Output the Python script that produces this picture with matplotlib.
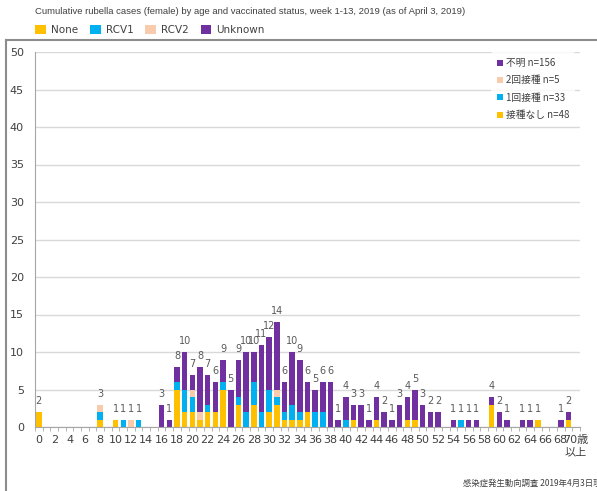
import matplotlib
matplotlib.use('Agg')
import matplotlib.pyplot as plt
from matplotlib.patches import Patch
from matplotlib.lines import Line2D
import numpy as np

plt.rcParams['font.family'] = ['DejaVu Sans', 'Noto Sans CJK JP']

ages = list(range(71))
none_cases = [2,0,0,0,0,0,0,0,1,0,
              1,0,0,0,0,0,0,0,5,2,
              2,1,2,2,5,0,3,0,3,0,
              2,3,1,1,1,2,0,0,0,0,
              0,1,0,0,1,0,0,0,1,1,
              0,0,0,0,0,0,0,0,0,3,
              0,0,0,0,0,1,0,0,0,1,
              0]
rcv1_cases = [0,0,0,0,0,0,0,0,1,0,
              0,1,0,1,0,0,0,0,1,3,
              2,0,1,0,1,0,1,2,3,2,
              3,1,1,2,1,0,2,2,0,0,
              1,0,0,0,0,0,0,0,0,0,
              0,0,0,0,0,1,0,0,0,0,
              0,0,0,0,0,0,0,0,0,0,
              0]
rcv2_cases = [0,0,0,0,0,0,0,0,1,0,
              0,0,1,0,0,0,0,0,0,0,
              1,1,0,0,0,0,0,0,0,0,
              0,1,0,0,0,0,0,0,0,0,
              0,0,0,0,0,0,0,0,0,0,
              0,0,0,0,0,0,0,0,0,0,
              0,0,0,0,0,0,0,0,0,0,
              0]
unknown_cases = [0,0,0,0,0,0,0,0,0,0,
                 0,0,0,0,0,0,3,1,2,5,
                 2,6,4,4,3,5,5,8,4,9,
                 7,9,4,7,7,4,3,4,6,1,
                 3,2,3,1,3,2,1,3,3,4,
                 3,2,2,0,1,0,1,1,0,1,
                 2,1,0,1,1,0,0,0,1,1,
                 0]

series_en = ['None', 'RCV1', 'RCV2', 'Unknown']
series_ja = ['接種なし n=48', '1回接種 n=33', '2回接種 n=5', '不明 n=156']
colors = ['#FFC000', '#00B0F0', '#F8CBAD', '#7030A0']
tick_labels = [str(a) if a % 2 == 0 else '' for a in ages]
tick_labels[70] = '70歳\n以上'

title = 'Cumulative rubella cases (female) by age and vaccinated status, week 1-13, 2019 (as of April 3, 2019)'
source = '感染症発生動向調査 2019年4月3日現在'

W, H = 597, 491
fig = plt.figure(figsize=(W / 100, H / 100), dpi=100)
ax = fig.add_axes([35 / W, (H - 427) / H, (580 - 35) / W, (427 - 52) / H])

data = [none_cases, rcv1_cases, rcv2_cases, unknown_cases]
bottom = np.zeros(len(ages))
x = np.array(ages)
for vals, c in zip(data, colors):
    v = np.array(vals)
    ax.bar(x, v, bottom=bottom, width=0.72, color=c, linewidth=0, zorder=2)
    bottom += v

for xi, tot in zip(x, bottom):
    if tot > 0:
        ax.annotate(str(int(tot)), (xi, tot), xytext=(0, 4), textcoords='offset points',
                    ha='center', va='bottom', fontsize=7, color='#595959')

ax.set_xlim(-0.5, 70.5)
ax.set_ylim(0, 50)
ax.set_yticks(range(0, 51, 5))
ax.yaxis.grid(True, color='#D9D9D9', linewidth=1, zorder=0)
ax.set_axisbelow(True)
ax.set_xticks(x)
ax.set_xticklabels(tick_labels, fontsize=8, color='#404040')
ax.set_xticks(np.arange(-0.5, 71, 1), minor=True)
ax.tick_params(axis='x', which='major', length=0, pad=6)
ax.tick_params(axis='x', which='minor', length=3, color='#A6A6A6')
ax.tick_params(axis='y', length=0, labelsize=8, labelcolor='#404040', pad=8)
for s in ['top', 'right']:
    ax.spines[s].set_visible(False)
for s in ['left', 'bottom']:
    ax.spines[s].set_color('#A6A6A6')

handles_ja = [Patch(facecolor=c, edgecolor='none') for c in colors][::-1]
leg = ax.legend(handles_ja, series_ja[::-1], loc='upper right', bbox_to_anchor=(1.0, 1.012),
                frameon=True, fontsize=7, handlelength=0.6, handleheight=0.6,
                handletextpad=0.3, labelspacing=0.75, borderpad=0.6)
leg.get_frame().set_facecolor('white')
leg.get_frame().set_edgecolor('none')
for t in leg.get_texts():
    t.set_color('#404040')
    t.set_fontfamily(['Noto Sans CJK JP', 'DejaVu Sans'])

fig.text(35 / W, 1 - 12 / H, title, fontsize=6.8, color='#404040', ha='left', va='center',
         fontfamily=['Liberation Sans', 'DejaVu Sans'])
handles_en = [Patch(facecolor=c, edgecolor='none') for c in colors]
fig.legend(handles_en, series_en, loc='center left', bbox_to_anchor=(26 / W, 1 - 30 / H),
           ncol=4, frameon=False, fontsize=7.5, handlelength=1.0, handleheight=1.0,
           handletextpad=0.5, columnspacing=1.15, labelcolor='#404040')

fig.text(463 / W, (H - 483) / H, source, fontsize=6, color='#404040', ha='left', va='center',
         fontfamily=['Noto Sans CJK JP', 'DejaVu Sans'])

fig.add_artist(Line2D([5.5 / W, 5.5 / W], [0, 1 - 40 / H], transform=fig.transFigure,
                      color='#8C8C8C', linewidth=1.5))
fig.add_artist(Line2D([5.5 / W, 1], [1 - 40 / H, 1 - 40 / H], transform=fig.transFigure,
                      color='#8C8C8C', linewidth=1.5))

fig.savefig('out.png', dpi=100)
